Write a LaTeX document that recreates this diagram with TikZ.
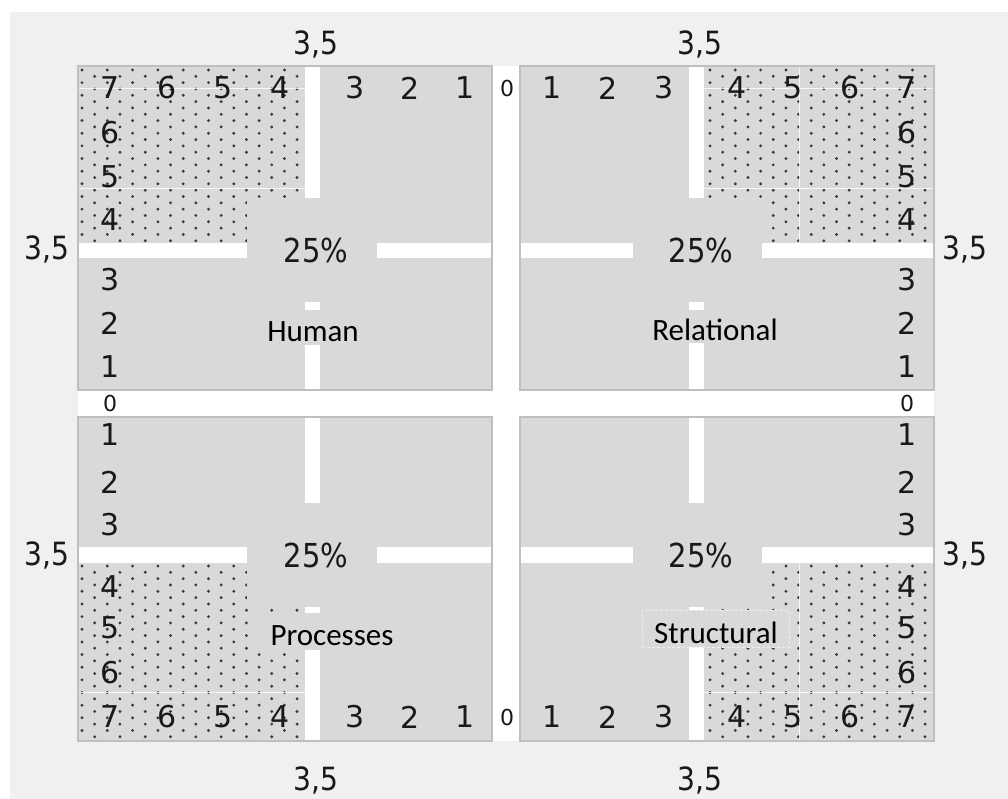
\documentclass[tikz,border=0pt]{standalone}
\usepackage{fontspec}
\newfontfamily\dvs{DejaVu Sans}
\newfontfamily\dvsn[FakeStretch=0.88]{DejaVu Sans}
\newfontfamily\cbr{Carlito}
\definecolor{bggray}{HTML}{F0F0F0}
\definecolor{boxgray}{HTML}{D9D9D9}
\definecolor{edgegray}{HTML}{BFBFBF}
\definecolor{dotgray}{HTML}{3A3A3A}
\newcommand\dotfield[6]{%
  \begin{scope}
    \clip (#1,#2) rectangle (#3,#4);
    \foreach \i in {0,...,19}{\foreach \j in {0,...,15}{
      \fill[dotgray] ({#5+12.65*\i},{#6+12.65*\j+6.32*mod(\i,2)}) circle (1.6pt);}}
  \end{scope}}
\tikzset{
  num/.style={font=\dvs\fontsize{30}{30}\selectfont, inner sep=0pt, text=black!90},
  zero/.style={font=\dvs\fontsize{22}{22}\selectfont, inner sep=0pt, text=black!90},
  axislbl/.style={font=\dvsn\fontsize{32}{32}\selectfont, inner sep=0pt, anchor=base, text=black!90},
  pct/.style={font=\dvsn\fontsize{33}{33}\selectfont, inner sep=0pt, text=black!90},
  lbl/.style={font=\cbr\fontsize{31}{31}\selectfont, inner sep=0pt, anchor=base, text=black},
  bgbox/.style={fill=boxgray, draw=none, inner sep=0pt, outer sep=0pt},
  quad/.style={fill=boxgray},
  quadedge/.style={draw=edgegray, line width=1.5pt},
  strip/.style={fill=white},
  faint/.style={draw=white, line width=0.8pt, opacity=0.8}
}
\begin{document}
\begin{tikzpicture}[x=1pt,y=-1pt]
\useasboundingbox (0,0) rectangle (1008,799);
\fill[white] (0,0) rectangle (1008,799);
\fill[bggray] (10,12) rectangle (1008,799);
\fill[white] (78,66) rectangle (934,741);
% quadrants
\fill[quad] (78,66) rectangle (492,390);
\fill[quad] (520,66) rectangle (934,390);
\fill[quad] (78,417) rectangle (492,741);
\fill[quad] (520,417) rectangle (934,741);
% dotted areas
\dotfield{78}{66}{305}{243}{82}{70}
\dotfield{704}{66}{934}{243}{710}{70}
\dotfield{78}{563}{305}{741}{82}{566}
\dotfield{704}{563}{934}{741}{710}{566}
% faint grid lines
\draw[faint] (78,88) -- (305,88);
\draw[faint] (78,188) -- (305,188);
\draw[faint] (704,88) -- (934,88);
\draw[faint] (704,188) -- (934,188);
\draw[faint] (799,66) -- (799,243);
\draw[faint] (78,692) -- (305,692);
\draw[faint] (704,692) -- (934,692);
\draw[faint] (799,563) -- (799,741);
% white cross strips
\fill[strip] (305,66) rectangle (320,390);
\fill[strip] (78,243) rectangle (492,258);
\fill[strip] (689,66) rectangle (704,390);
\fill[strip] (520,243) rectangle (934,258);
\fill[strip] (305,417) rectangle (320,741);
\fill[strip] (78,547) rectangle (492,563);
\fill[strip] (689,417) rectangle (704,741);
\fill[strip] (520,547) rectangle (934,563);
% label backgrounds
\node[bgbox, minimum width=130, minimum height=104] (bgtl) at (312,250) {};
\node[bgbox, minimum width=129, minimum height=104] (bgtr) at (697.5,250) {};
\node[bgbox, minimum width=130, minimum height=104] (bgbl) at (312,555) {};
\node[bgbox, minimum width=129, minimum height=104] (bgbr) at (697.5,555) {};
\node[bgbox, minimum width=102, minimum height=35] (bghum) at (313,327.5) {};
\node[bgbox, minimum width=134, minimum height=33] (bgrel) at (715,326.5) {};
\node[bgbox, minimum width=150, minimum height=37] (bgpro) at (332,631.5) {};
\node[bgbox, minimum width=147, minimum height=37, draw=white!55!boxgray, densely dashed, line width=0.6pt] (bgstr) at (715.5,628.5) {};
% quadrant borders
\draw[quadedge] (78,66) rectangle (492,390);
\draw[quadedge] (520,66) rectangle (934,390);
\draw[quadedge] (78,417) rectangle (492,741);
\draw[quadedge] (520,417) rectangle (934,741);
% percentages
\node[pct] (ptl) at (316,250) {25\%};
\node[pct] (ptr) at (701,250) {25\%};
\node[pct] (pbl) at (316,555) {25\%};
\node[pct] (pbr) at (701,555) {25\%};
% quadrant names
\node[lbl] (human) at (313,341) {Human};
\node[lbl] (relational) at (715,340) {Relational};
\node[lbl] (processes) at (332,645) {Processes};
\node[lbl] (structural) at (716,643) {Structural};
% axis labels 3,5
\node[axislbl] (at1) at (316,55) {3,5};
\node[axislbl] (at2) at (700,55) {3,5};
\node[axislbl] (ab1) at (316,790) {3,5};
\node[axislbl] (ab2) at (700,790) {3,5};
\node[axislbl] (al1) at (47,260) {3,5};
\node[axislbl] (al2) at (47,565) {3,5};
\node[axislbl] (ar1) at (965,260) {3,5};
\node[axislbl] (ar2) at (965,565) {3,5};
% top and bottom rows
\foreach \t/\x in {7/110,6/167,5/223,4/280,3/355,2/410,1/465}{
  \node[num] (tl\t) at (\x,88) {\t};
  \node[num] (bl\t) at (\x,717) {\t};}
\foreach \t/\x in {1/552,2/608,3/664,4/737,5/793,6/850,7/907}{
  \node[num] (tr\t) at (\x,88) {\t};
  \node[num] (br\t) at (\x,717) {\t};}
% side columns
\foreach \t/\y in {6/133,5/177,4/220,3/280,2/323,1/367}{
  \node[num] (lu\t) at (110,\y) {\t};
  \node[num] (ru\t) at (907,\y) {\t};}
\foreach \t/\y in {1/435,2/482,3/525,4/587,5/628,6/673}{
  \node[num] (ld\t) at (110,\y) {\t};
  \node[num] (rd\t) at (907,\y) {\t};}
% zeros
\node[zero] (z1) at (507,88) {0};
\node[zero] (z2) at (507,717) {0};
\node[zero] (z3) at (110,403) {0};
\node[zero] (z4) at (907,403) {0};
\end{tikzpicture}
\end{document}
